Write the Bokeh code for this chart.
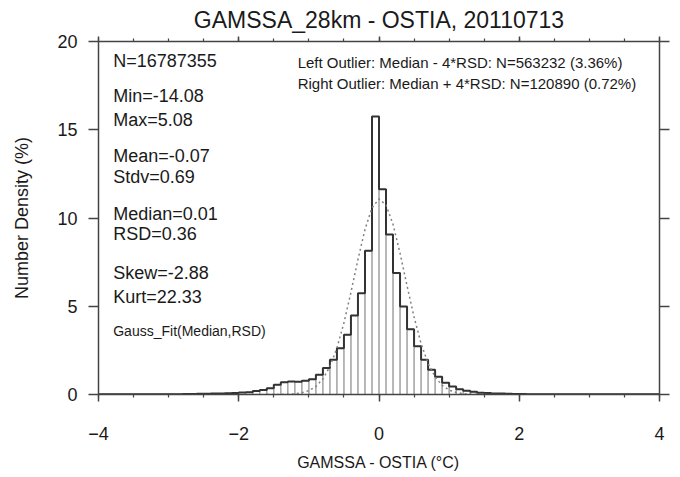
import numpy as np
from bokeh.plotting import figure
from bokeh.models import Label, LinearAxis, FixedTicker, Range1d
from bokeh.embed import file_html
from bokeh.resources import INLINE

# ---------------- data ----------------
bin_edges = np.round(np.linspace(-4.0, 4.0, 81), 2)   # 0.1 wide bins

density_left = [
    0.01, 0.01, 0.01, 0.01, 0.01, 0.01, 0.01, 0.01, 0.02, 0.02,   # -4.0 .. -3.1
    0.02, 0.02, 0.03, 0.03, 0.04, 0.04, 0.05, 0.06, 0.07, 0.08,   # -3.0 .. -2.1
    0.11, 0.13, 0.20, 0.26, 0.35, 0.55, 0.70, 0.73, 0.72, 0.78,   # -2.0 .. -1.1
    0.87, 1.12, 1.50, 1.97, 2.62, 3.38, 4.48, 5.73, 8.14, 15.75,  # -1.0 .. -0.1
]
density_right = [
    11.63, 9.07, 6.88, 4.98, 3.70, 2.73, 1.97, 1.40, 1.00, 0.67,  # 0.0 .. 0.9
    0.45, 0.30, 0.21, 0.15, 0.10, 0.08, 0.06, 0.05, 0.04, 0.03,   # 1.0 .. 1.9
    0.03, 0.02, 0.02, 0.02, 0.02, 0.01, 0.01, 0.01, 0.01, 0.01,   # 2.0 .. 2.9
    0.01, 0.01, 0.01, 0.01, 0.01, 0.01, 0.01, 0.01, 0.01, 0.01,   # 3.0 .. 3.9
]
density = density_left + density_right

gauss_x = [-1.6, -1.5, -1.4, -1.3, -1.2, -1.1, -1.0, -0.9, -0.8, -0.7, -0.6,
           -0.5, -0.4, -0.3, -0.2, -0.1, 0.0, 0.1, 0.2, 0.3, 0.4, 0.5, 0.6,
           0.7, 0.8, 0.9, 1.0, 1.1, 1.2, 1.3, 1.4, 1.5, 1.6]
gauss_y = [0.0005, 0.002, 0.005, 0.015, 0.039, 0.096, 0.216, 0.454, 0.88, 1.58,
           2.64, 4.06, 5.79, 7.65, 9.35, 10.57, 11.08, 10.74, 9.64, 8.01, 6.16,
           4.39, 2.89, 1.76, 1.00, 0.52, 0.25, 0.113, 0.047, 0.018, 0.006,
           0.002, 0.0006]

x_ticks = [-4, -2, 0, 2, 4]
x_minor_ticks = [-4, -3.5, -3, -2.5, -2, -1.5, -1, -0.5, 0, 0.5, 1, 1.5, 2,
                 2.5, 3, 3.5, 4]
y_ticks = [0, 5, 10, 15, 20]

stats_text = ["N=16787355", "Min=-14.08", "Max=5.08", "Mean=-0.07",
              "Stdv=0.69", "Median=0.01", "RSD=0.36", "Skew=-2.88",
              "Kurt=22.33"]
gauss_note = "Gauss_Fit(Median,RSD)"
outlier_text = ["Left Outlier:  Median - 4*RSD: N=563232 (3.36%)",
                "Right Outlier: Median + 4*RSD: N=120890 (0.72%)"]

title_text = "GAMSSA_28km - OSTIA, 20110713"
x_label = "GAMSSA - OSTIA (\u00b0C)"
y_label = "Number Density (%)"

# ---------------- figure ----------------
FONT = "Liberation Sans"
AX = "#444444"

p = figure(width=672, height=473, x_range=Range1d(-4, 4), y_range=Range1d(0, 20),
           output_backend="svg", toolbar_location=None, title=title_text,
           x_axis_label=x_label, y_axis_label=y_label,
           min_border_left=98, min_border_right=13, min_border_top=41,
           min_border_bottom=78)
p.grid.visible = False
p.outline_line_color = None
p.background_fill_color = "white"
p.border_fill_color = "white"

p.title.text_font = FONT
p.title.text_font_size = "23px"
p.title.text_font_style = "normal"
p.title.text_color = "#1a1a1a"
p.title.align = "center"
p.title.standoff = 8

def style_axis(ax, ticks, minor=None, labels=True):
    ax.ticker = FixedTicker(ticks=ticks, minor_ticks=minor or [])
    ax.axis_line_color = AX
    ax.axis_line_width = 1.5
    ax.major_tick_line_color = AX
    ax.major_tick_line_width = 1.5
    ax.minor_tick_line_color = AX
    ax.minor_tick_line_width = 1.2
    ax.major_tick_in = 0
    ax.minor_tick_in = 0
    ax.major_label_text_font = FONT
    ax.major_label_text_color = "#1a1a1a"
    ax.axis_label_text_font = FONT
    ax.axis_label_text_font_style = "normal"
    ax.axis_label_text_color = "#1a1a1a"
    if not labels:
        ax.major_label_overrides = {t: "" for t in ticks}
        ax.major_label_text_font_size = "1px"
        ax.major_label_standoff = 0

xb = p.xaxis[0]
style_axis(xb, x_ticks, x_minor_ticks)
xb.major_tick_out = 7
xb.minor_tick_out = 3
xb.major_label_text_font_size = "18px"
xb.major_label_standoff = 25
xb.axis_label_text_font_size = "16px"
xb.axis_label_standoff = 11

yl = p.yaxis[0]
style_axis(yl, y_ticks)
yl.major_tick_out = 10
yl.minor_tick_out = 0
yl.major_label_text_font_size = "18px"
yl.major_label_standoff = 11
yl.axis_label_text_font_size = "18px"
yl.axis_label_standoff = 22

top_ax = LinearAxis()
style_axis(top_ax, x_ticks, x_minor_ticks, labels=False)
top_ax.major_tick_out = 5
top_ax.minor_tick_out = 3
p.add_layout(top_ax, "above")

right_ax = LinearAxis()
style_axis(right_ax, y_ticks, labels=False)
right_ax.major_tick_out = 10
right_ax.minor_tick_out = 0
p.add_layout(right_ax, "right")

# histogram bars (thin grey) and outline (thick dark)
p.quad(left=bin_edges[:-1], right=bin_edges[1:], top=density, bottom=0,
       fill_color=None, line_color="#a0a0a0", line_width=1)
p.step(x=list(bin_edges), y=density + [density[-1]], mode="after",
       line_color="#333333", line_width=2)

# Gaussian fit (dotted)
p.line(gauss_x, gauss_y, line_color="#808080", line_width=1.5, line_dash="2 3")

# annotations
stats_y = [18.87, 16.92, 15.55, 13.54, 12.31, 10.25, 9.08, 6.9, 5.54]
for t, yy in zip(stats_text, stats_y):
    p.add_layout(Label(x=-3.79, y=yy, text=t, text_font=FONT,
                       text_font_size="18px", text_baseline="middle",
                       text_color="#1a1a1a"))
p.add_layout(Label(x=-3.79, y=3.57, text=gauss_note, text_font=FONT,
                   text_font_size="14px", text_baseline="middle",
                   text_color="#1a1a1a"))
for t, yy in zip(outlier_text, [18.8, 17.61]):
    p.add_layout(Label(x=-1.16, y=yy, text=t, text_font=FONT,
                       text_font_size="15px", text_baseline="middle",
                       text_color="#1a1a1a"))

open("out.html", "w").write(file_html(p, INLINE))
